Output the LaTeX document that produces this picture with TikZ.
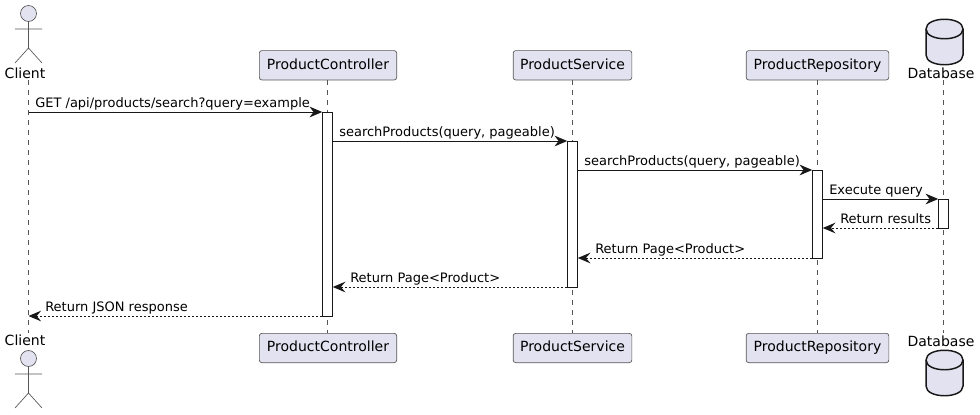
\documentclass[tikz,border=0pt]{standalone}
\usepackage{fontspec}
\setmainfont{DejaVu Sans}
\usetikzlibrary{arrows.meta}
\definecolor{pfill}{HTML}{E2E2F0}
\definecolor{pline}{HTML}{181818}
\definecolor{lline}{HTML}{555555}
\tikzset{
  x=0.75pt,y=-0.75pt,
  pbox/.style={draw=lline,fill=pfill,line width=0.5pt,rounded corners=1.9pt,minimum height=22pt,inner sep=0,outer sep=0,anchor=center,text height=7.8pt,text depth=2pt,font=\fontsize{10.5pt}{12pt}\selectfont,text=black},
  plabel/.style={inner sep=0,anchor=base,font=\fontsize{10.5pt}{12pt}\selectfont,text=black},
  msglabel/.style={inner sep=0,anchor=base west,font=\fontsize{9.75pt}{12pt}\selectfont,text=black},
  lifeline/.style={draw=lline,line width=0.375pt,dash pattern=on 3.75pt off 3.75pt},
  actbar/.style={draw=pline,fill=white,line width=0.75pt,minimum width=7.9pt,inner sep=0,outer sep=0,anchor=north},
  actorline/.style={draw=lline,line width=0.5pt},
  acthead/.style={circle,draw=lline,fill=pfill,line width=0.5pt,minimum size=12pt,inner sep=0,outer sep=0},
  dbshape/.style={draw=pline,fill=pfill,line width=1.1pt},
  call/.style={draw=pline,line width=0.75pt,-{Stealth[length=9.5pt,width=8pt,inset=3pt]}},
  reply/.style={draw=pline,line width=0.75pt,dash pattern=on 1.5pt off 1.5pt,-{Stealth[length=9.5pt,width=8pt,inset=3.4pt]}},
}
\newcommand{\dbcyl}[1]{%
  \path[dbshape] (926,#1+10) .. controls (926,#1-3) and (963,#1-3) .. (963,#1+10)
    -- (963,#1+36) .. controls (963,#1+49) and (926,#1+49) .. (926,#1+36) -- cycle;
  \path[dbshape,fill=none] (926,#1+10) .. controls (926,#1+23) and (963,#1+23) .. (963,#1+10);
}
\begin{document}
\begin{tikzpicture}
\useasboundingbox (0,0) rectangle (980,414);
% lifeline ends
\coordinate (clT) at (28.5,80); \coordinate (clB) at (28.5,333);
\coordinate (pcT) at (327.5,80); \coordinate (pcB) at (327.5,333);
\coordinate (psT) at (572.5,80); \coordinate (psB) at (572.5,333);
\coordinate (prT) at (817.5,80); \coordinate (prB) at (817.5,333);
\coordinate (dbT) at (943.5,80); \coordinate (dbB) at (943.5,333);
\draw[lifeline] (clT) -- (clB);
\draw[lifeline] (pcT) -- (pcB);
\draw[lifeline] (psT) -- (psB);
\draw[lifeline] (prT) -- (prB);
\draw[lifeline] (dbT) -- (dbB);
% participant boxes
\node[pbox,minimum width=103pt] (pc1) at (328,65.25) {ProductController};
\node[pbox,minimum width=103pt] (pc2) at (328,348) {ProductController};
\node[pbox,minimum width=89pt] (ps1) at (572.5,65.25) {ProductService};
\node[pbox,minimum width=89pt] (ps2) at (572.5,348) {ProductService};
\node[pbox,minimum width=107pt] (pr1) at (817.5,65.25) {ProductRepository};
\node[pbox,minimum width=107pt] (pr2) at (817.5,348) {ProductRepository};
% actors
\node[acthead] (h1) at (28.5,13.5) {};
\coordinate (b1) at (28.5,48);
\coordinate (a1l) at (15,29); \coordinate (a1r) at (42,29);
\coordinate (l1l) at (15,63); \coordinate (l1r) at (42,63);
\draw[actorline] (h1) -- (b1) (a1l) -- (a1r) (l1l) -- (b1) -- (l1r);
\node[plabel] (cl1) at (25,78) {Client};
\node[plabel] (cl2) at (25,345.5) {Client};
\node[acthead] (h2) at (28.5,358.5) {};
\coordinate (b2) at (28.5,393);
\coordinate (a2l) at (15,374); \coordinate (a2r) at (42,374);
\coordinate (l2l) at (15,408); \coordinate (l2r) at (42,408);
\draw[actorline] (h2) -- (b2) (a2l) -- (a2r) (l2l) -- (b2) -- (l2r);
% database
\dbcyl{19}
\dbcyl{350}
\node[plabel] (db1) at (941,78) {Database};
\node[plabel] (db2) at (941,346) {Database};
% activations
\node[actbar,minimum height=153pt] (apc) at (327.5,112) {};
\node[actbar,minimum height=109.5pt] (aps) at (572.5,141) {};
\node[actbar,minimum height=66pt] (apr) at (817.5,170) {};
\node[actbar,minimum height=21.75pt] (adb) at (943.5,199) {};
% message anchors
\coordinate (m1a) at (28.5,112);
\coordinate (m8b) at (28.5,316);
% messages
\draw[call] (m1a) -- (apc.north west);
\draw[call] (apc.north east |- aps.north) -- (aps.north west);
\draw[call] (aps.east |- apr.north) -- (apr.north west);
\draw[call] (apr.east |- adb.north) -- (adb.north west);
\draw[reply] (adb.south west) -- (apr.east |- adb.south);
\draw[reply] (apr.south west) -- (aps.east |- apr.south);
\draw[reply] (aps.south west) -- (apc.east |- aps.south);
\draw[reply] (apc.south west) -- (m8b);
% message labels
\node[msglabel] (t1) at (35,107) {GET /api/products/search?query=example};
\node[msglabel] (t2) at (339,136) {searchProducts(query, pageable)};
\node[msglabel] (t3) at (584,165) {searchProducts(query, pageable)};
\node[msglabel] (t4) at (829,194.5) {Execute query};
\node[msglabel] (t5) at (840,223.5) {Return results};
\node[msglabel] (t6) at (595,253) {Return Page<Product>};
\node[msglabel] (t7) at (350,282) {Return Page<Product>};
\node[msglabel] (t8) at (45,311) {Return JSON response};
\end{tikzpicture}
\end{document}
